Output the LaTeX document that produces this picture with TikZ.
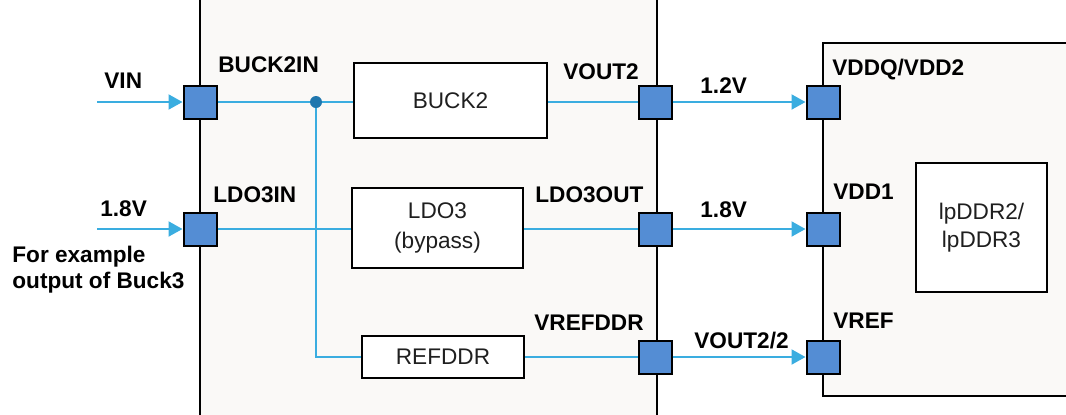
\documentclass[tikz,border=0pt]{standalone}
\usepackage{fontspec}
\setmainfont{Liberation Sans}
\usetikzlibrary{arrows.meta}
\definecolor{wireblue}{HTML}{3AADE0}
\definecolor{pinfill}{HTML}{548DD4}
\definecolor{boxbg}{HTML}{FAF9F7}
\definecolor{dotc}{HTML}{1F77AE}
\begin{document}
\begin{tikzpicture}[x=0.5pt,y=-0.5pt,
  pinbox/.style={draw=black, line width=1pt, fill=pinfill, minimum size=16.5pt, inner sep=0pt},
  block/.style={draw=black, line width=1.2pt, fill=white, inner sep=0pt, text=black!88,
    font=\fontsize{11.3}{15}\selectfont, align=center},
  lbl/.style={font=\bfseries\fontsize{11.3}{13}\selectfont, inner sep=0pt, anchor=base west},
  frame/.style={draw=black, line width=1pt},
  wireline/.style={draw=wireblue, line width=1pt},
  arr/.style={wireline, -{Triangle[length=7pt,width=7.5pt]}}]
\useasboundingbox (0,0) rectangle (1066,414);
\clip (0,0) rectangle (1066,414);
% chip outlines
\fill[boxbg] (200,-5) rectangle (657,420);
\draw[frame] (200,-5) -- (200,420);
\draw[frame] (657,-5) -- (657,420);
\fill[boxbg] (823,43) rectangle (1080,396);
\draw[frame] (1080,43) -- (823,43) -- (823,396) -- (1080,396);
% blocks
\node[block, minimum width=96.5pt, minimum height=37.5pt] (buck) at (450.5,100.5) {BUCK2};
\node[block, minimum width=85.5pt, minimum height=40pt] (ldo) at (437.5,228) {LDO3\\(bypass)};
\node[block, minimum width=81pt, minimum height=21pt] (ref) at (443,357) {REFDDR};
\node[block, minimum width=65.5pt, minimum height=64.5pt, font=\fontsize{11.3}{14}\selectfont] (mem) at (981.5,227.5) {lpDDR2/\\lpDDR3};
% pins
\node[pinbox] (p1) at (200,102) {};
\node[pinbox] (p2) at (200,229) {};
\node[pinbox] (p3) at (655,102) {};
\node[pinbox] (p4) at (655,229) {};
\node[pinbox] (p5) at (655,357) {};
\node[pinbox] (p6) at (823,102) {};
\node[pinbox] (p7) at (823,229) {};
\node[pinbox] (p8) at (823,357) {};
% wires
\coordinate (vin) at (97,102);
\coordinate (v18) at (97,229);
\coordinate (j) at (316,102);
\draw[arr] (vin) -- (p1.west);
\draw[arr] (v18) -- (p2.west);
\draw[wireline] (p1.east) -- (buck.west |- p1.east);
\draw[wireline] (buck.east |- p3.west) -- (p3.west);
\draw[wireline] (p2.east) -- (ldo.west |- p2.east);
\draw[wireline] (ldo.east |- p4.west) -- (p4.west);
\draw[wireline] (j) |- (ref.west);
\draw[wireline] (ref.east) -- (p5.west);
\draw[arr] (p3.east) -- (p6.west);
\draw[arr] (p4.east) -- (p7.west);
\draw[arr] (p5.east) -- (p8.west);
\fill[dotc] (j) circle[radius=3pt];
% labels
\node[lbl] (lvin) at (104,88) {VIN};
\node[lbl] (lbin) at (218,72) {BUCK2IN};
\node[lbl] (lvo2) at (563,79) {VOUT2};
\node[lbl] (l12) at (700,93) {1.2V};
\node[lbl] (lvddq) at (832,75) {VDDQ/VDD2};
\node[lbl] (l18a) at (100,216) {1.8V};
\node[lbl] (lldoin) at (213,202) {LDO3IN};
\node[lbl] (lldoout) at (535,202) {LDO3OUT};
\node[lbl] (l18b) at (700,217) {1.8V};
\node[lbl] (lvdd1) at (833,199) {VDD1};
\node[lbl] (lex1) at (12,262) {For example};
\node[lbl] (lex2) at (12,288) {output of Buck3};
\node[lbl] (lvrefddr) at (534,330) {VREFDDR};
\node[lbl] (lvo22) at (694,348) {VOUT2/2};
\node[lbl] (lvref) at (833,328) {VREF};
\end{tikzpicture}
\end{document}
